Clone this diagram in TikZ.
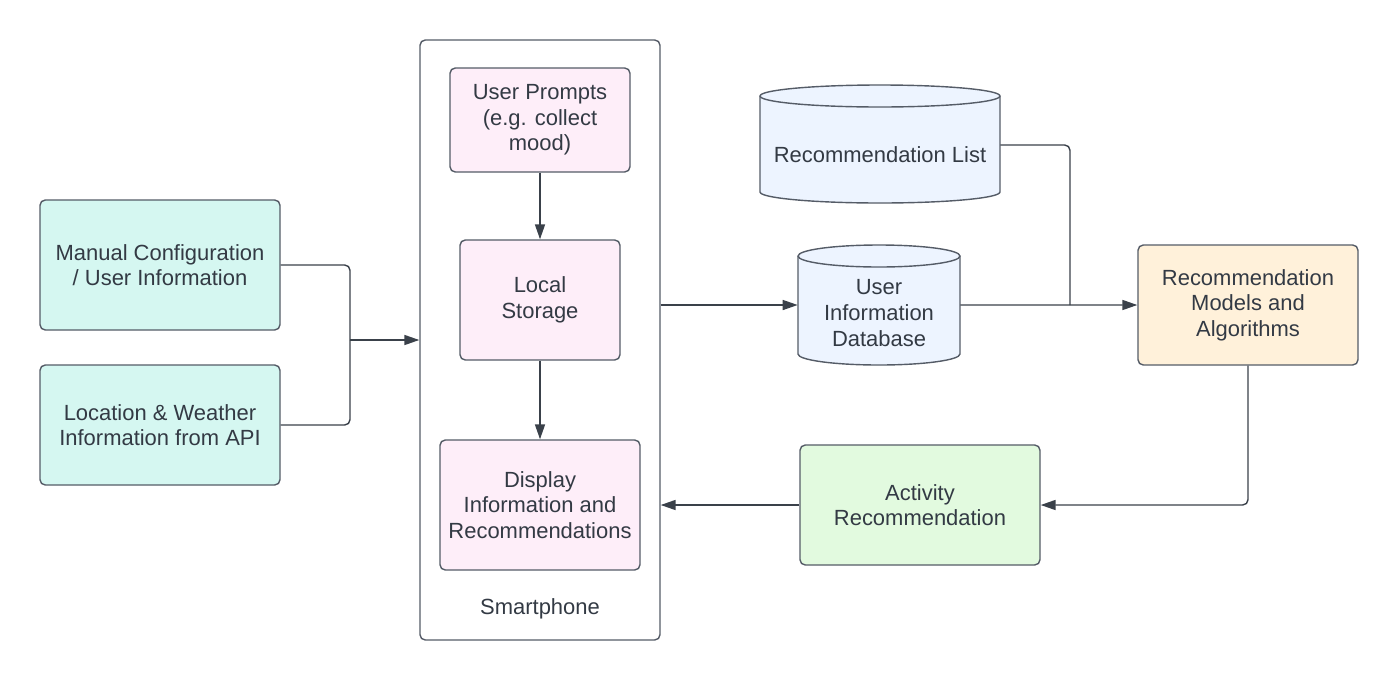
\documentclass[tikz,border=0pt]{standalone}
\usepackage{fontspec}
\setmainfont{Liberation Sans}
\usepackage{xcolor}
\usetikzlibrary{calc,arrows.meta}
\definecolor{inkline}{HTML}{3A414A}
\definecolor{inkbox}{HTML}{555C67}
\definecolor{inktext}{HTML}{333A44}
\definecolor{tealfill}{HTML}{D5F7F1}
\definecolor{pinkfill}{HTML}{FEEEF9}
\definecolor{bluefill}{HTML}{EDF4FF}
\definecolor{sandfill}{HTML}{FFF1DA}
\definecolor{greenfill}{HTML}{E2FADF}
\tikzset{>={Triangle[length=8.5pt,width=5.7pt]}}
\tikzset{
  box/.style={draw=inkbox,line width=0.8pt,rounded corners=3pt,align=center,
    text=inktext,font=\fontsize{12.5}{14.6}\selectfont,inner sep=2pt},
  txt/.style={align=center,text=inktext,font=\fontsize{12.5}{14.6}\selectfont,inner sep=2pt},
  dbstyle/.style={draw=inkbox,line width=0.8pt,fill=bluefill},
  conn/.style={draw=inkline,line width=0.8pt,rounded corners=3pt},
}
% center x, top y, bottom y, x radius
\newcommand{\dbcyl}[4]{%
  \filldraw[dbstyle] (#1-#4,#2) -- (#1-#4,#3)
    arc[start angle=180,end angle=0,x radius=#4,y radius=11] -- (#1+#4,#2)
    arc[start angle=0,end angle=-180,x radius=#4,y radius=11] -- cycle;
  \draw[dbstyle,fill=none] (#1-#4,#2) arc[start angle=180,end angle=0,x radius=#4,y radius=11];}

\begin{document}
\begin{tikzpicture}[x=0.02cm,y=-0.02cm]
    \useasboundingbox (0,0) rectangle (1400,680);
    % inputs
    \node[box,fill=tealfill,minimum width=240*0.02cm,minimum height=130*0.02cm] (manual) at (160,265) {Manual Configuration\\/ User Information};
    \node[box,fill=tealfill,minimum width=240*0.02cm,minimum height=120*0.02cm] (location) at (160,425) {Location \& Weather\\Information from API};
    % smartphone
    \node[box,minimum width=240*0.02cm,minimum height=600*0.02cm] (phone) at (540,340) {};
    \node[txt] (phonetxt) at (540,609) {Smartphone};
    \node[box,fill=pinkfill,minimum width=180*0.02cm,minimum height=104*0.02cm] (prompts) at (540,120) {User Prompts\\(e.g. collect\\mood)};
    \node[box,fill=pinkfill,minimum width=160*0.02cm,minimum height=120*0.02cm] (storage) at (540,300) {Local\\Storage};
    \node[box,fill=pinkfill,minimum width=200*0.02cm,minimum height=130*0.02cm] (display) at (540,505) {Display\\Information and\\Recommendations};
    % databases
    \dbcyl{880}{96}{192}{120}
    \node[txt,minimum width=240*0.02cm] (reclist) at (880,155) {Recommendation List};
    \dbcyl{879}{256}{354}{81}
    \node[txt,minimum width=162*0.02cm] (userdb) at (879,313) {User\\Information\\Database};
    % models and output
    \node[box,fill=sandfill,minimum width=220*0.02cm,minimum height=120*0.02cm] (models) at (1248,305) {Recommendation\\Models and\\Algorithms};
    \node[box,fill=greenfill,minimum width=240*0.02cm,minimum height=120*0.02cm] (activity) at (920,505) {Activity\\Recommendation};

    \coordinate (merge) at (350,340);
    \coordinate (join) at (1070,305);
    \draw[conn] (manual.east) -| (merge);
    \draw[conn] (location.east) -| (merge);
    \draw[conn,->] (merge) -- (phone.west);
    \draw[conn,->] (prompts.south) -- (storage.north);
    \draw[conn,->] (storage.south) -- (display.north);
    \draw[conn,->] ([yshift=0.16cm]userdb.west -| phone.east) -- ([yshift=0.16cm]userdb.west);
    \draw[conn] ([yshift=0.2cm]reclist.east) -| (join);
    \draw[conn,->] ([yshift=0.16cm]userdb.east) -- (models.west);
    \draw[conn,->] (models.south) |- (activity.east);
    \draw[conn,->] (activity.west) -- (activity.west -| phone.east);
\end{tikzpicture}
\end{document}
